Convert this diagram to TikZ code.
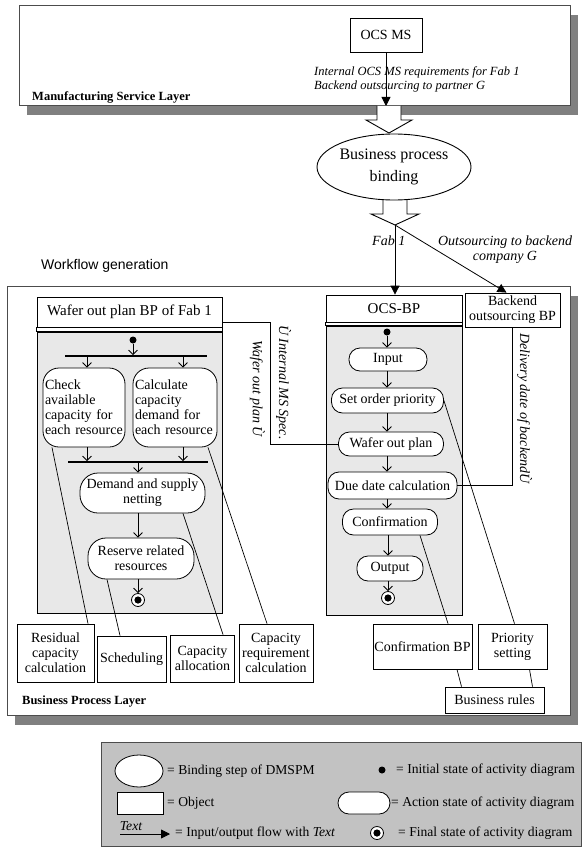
\documentclass[tikz,border=0pt]{standalone}
\usepackage{fontspec}
\setmainfont{Liberation Serif}
\newfontfamily\sansfam{Liberation Sans}
\usetikzlibrary{arrows.meta,shapes.geometric,calc}

\definecolor{shadowgray}{gray}{0.5}
\definecolor{panelgray}{gray}{0.91}
\definecolor{legendgray}{gray}{0.76}
\definecolor{framegray}{gray}{0.3}

\newcommand{\bodyfont}{\fontsize{14}{15}\selectfont}
\newcommand{\keyfont}{\fontsize{13.6}{15}\selectfont}

\tikzset{
  txt/.style={font=\bodyfont, inner sep=0pt},
  itxt/.style={font=\bodyfont\itshape, inner sep=0pt},
  ktxt/.style={font=\keyfont, inner sep=0pt},
  btxt/.style={font=\fontsize{12.5}{14}\selectfont\bfseries, inner sep=0pt},
  objbox/.style={draw, fill=white, line width=0.8pt, align=center, font=\bodyfont, inner sep=1pt},
  actbox/.style={draw, fill=white, line width=0.8pt, align=center, rounded corners=11pt, font=\bodyfont, inner sep=1pt},
  flow/.style={line width=0.8pt, -{Triangle[length=9pt,width=9pt]}},
  ctrl/.style={line width=0.8pt, -{Straight Barb[length=4.5pt,width=9pt]}},
  link/.style={line width=0.7pt},
  layer/.style={draw=framegray, line width=1.4pt, fill=white, inner sep=0pt},
  panel/.style={draw, fill=panelgray, line width=0.8pt, inner sep=0pt},
  startdot/.style={circle, fill=black, inner sep=0pt, minimum size=7pt},
  endring/.style={circle, draw, line width=0.8pt, fill=white, inner sep=0pt, minimum size=13pt},
  bar/.style={fill=black, inner sep=0pt, minimum height=1.4pt},
  blockarrow/.style={draw, fill=white, line width=0.9pt, line join=miter},
}

\begin{document}
\begin{tikzpicture}[x=1pt,y=-1pt]
\useasboundingbox (0,0) rectangle (582,848);

% ---------------- Manufacturing Service Layer ----------------
\fill[shadowgray] (27,15) rectangle (578,115);
\node[layer, minimum width=551pt, minimum height=100pt, anchor=north west] (mslayer) at (19,5) {};
\node[btxt, anchor=west] (mslabel) at (32,97) {Manufacturing Service Layer};
\node[objbox, minimum width=72pt, minimum height=34pt] (ocsms) at (386,35) {OCS MS};
\coordinate (msout) at (386,106);
\node[itxt, anchor=north west, align=left, font=\fontsize{12.5}{14}\selectfont\itshape] (msreq) at (314,66)
  {Internal OCS MS requirements for Fab 1\\Backend outsourcing to partner G};
\draw[flow] (ocsms) -- (msout);

% block arrow into the binding step
\draw[blockarrow] (377,106) -- (377,120) -- (366,120) -- (389,133) -- (412,120) -- (401,120) -- (401,106);
\coordinate (ba1tip) at (389,133);

% block arrow out of the binding step
\draw[blockarrow] (383,196) -- (383,214) -- (371,214) -- (395,225) -- (419,214) -- (407,214) -- (407,196);
\coordinate (ba2tip) at (395,225);

\node[draw, ellipse, fill=white, line width=0.9pt, minimum width=154pt, minimum height=66pt, inner sep=0pt,
      align=center, font=\fontsize{16}{22}\selectfont] (bind) at (394,167) {Business process\\binding};

% ---------------- Business Process Layer ----------------
\node[txt, anchor=west, font=\sansfam\fontsize{14}{15}\selectfont] (wfgen) at (41,266) {Workflow generation};
\fill[shadowgray] (15,296) rectangle (578,725);
\node[layer, minimum width=563pt, minimum height=429pt, anchor=north west] (bplayer) at (7,286) {};
\node[btxt, anchor=west] (bplabel) at (22,702) {Business Process Layer};

% Wafer out plan BP of Fab 1
\node[objbox, minimum width=185pt, minimum height=30pt, font=\fontsize{15}{16}\selectfont] (wtitle) at (129.5,312) {Wafer out plan BP of Fab 1};
\node[panel, minimum width=185pt, minimum height=281pt] (wbody) at (129.5,472.5) {};
\draw[line width=0.8pt, fill=white] (wtitle.south west) rectangle (wbody.north east);

\node[startdot] (wstart) at (133,340) {};
\node[bar, minimum width=142pt] (wfork) at (136,356) {};
\node[actbox, rounded corners=16pt, minimum height=79pt, text width=78pt, inner sep=2pt, align=left] (check) at (84,407.5)
  {Check\\available\\capacity for\\each resource};
\node[actbox, rounded corners=16pt, minimum height=79pt, text width=80pt, inner sep=2pt, align=left] (calc) at (175,407.5)
  {Calculate\\capacity\\demand for\\each resource};
\node[bar, minimum width=140pt] (wjoin) at (138,462) {};
\node[actbox, rounded corners=18pt, minimum width=125pt, minimum height=40pt] (demand) at (142.5,493) {Demand and supply\\netting};
\node[actbox, rounded corners=18pt, minimum width=106pt, minimum height=41pt] (reserve) at (141,558.5) {Reserve related\\resources};
\node[endring] (wend) at (138,600) {};
\fill (wend.center) circle (3.6pt);

\coordinate (ckx) at ([xshift=3pt]check.north);
\coordinate (clx) at ([xshift=8pt]calc.north);
\draw[ctrl] (wstart) -- (wstart |- wfork.north);
\draw[ctrl] (ckx |- wfork.south) -- (ckx);
\draw[ctrl] (clx |- wfork.south) -- (clx);
\draw[ctrl] (ckx |- check.south) -- (ckx |- wjoin.north);
\draw[ctrl] (clx |- calc.south) -- (clx |- wjoin.north);
\draw[ctrl] (wjoin.south) -- (wjoin.south |- demand.north);
\draw[ctrl] (wjoin.south |- demand.south) -- (wjoin.south |- reserve.north);
\draw[ctrl] (wend |- reserve.south) -- (wend.north);

% objects under the wafer out plan BP
\node[objbox, minimum width=77pt, minimum height=58pt] (residual) at (55.5,653) {Residual\\capacity\\calculation};
\node[objbox, minimum width=69pt, minimum height=46pt] (sched) at (131.5,659) {Scheduling};
\node[objbox, minimum width=64pt, minimum height=47pt] (alloc) at (202.5,658.5) {Capacity\\allocation};
\node[objbox, minimum width=74pt, minimum height=58pt] (req) at (276,653) {Capacity\\requirement\\calculation};

\draw[link] ([xshift=-32pt]check.south) -- ([xshift=32.5pt]residual.north);
\draw[link] ([xshift=33pt]calc.south) -- ([xshift=-9pt]req.north);
\draw[link] ([xshift=40.5pt]demand.south) -- ([xshift=20.5pt]alloc.north);
\draw[link] ([xshift=-34pt]reserve.south) -- ([xshift=-11.5pt]sched.north);

% OCS-BP
\node[objbox, minimum width=136pt, minimum height=27pt, font=\fontsize{15}{16}\selectfont] (ocstitle) at (394,308.5) {OCS-BP};
\node[panel, minimum width=136pt, minimum height=289pt] (ocsbody) at (394,470.5) {};
\draw[line width=0.8pt, fill=white] (ocstitle.south west) rectangle (ocsbody.north east);

\node[startdot] (ostart) at (387,332) {};
\node[actbox, minimum width=78pt, minimum height=23pt] (input) at (388,359.5) {Input};
\node[actbox, minimum width=112pt, minimum height=25pt] (setprio) at (387.5,400.5) {Set order priority};
\node[actbox, minimum width=105pt, minimum height=24pt] (wplan) at (391,444) {Wafer out plan};
\node[actbox, minimum width=129pt, minimum height=27pt] (duedate) at (392.5,485.5) {Due date calculation};
\node[actbox, minimum width=95pt, minimum height=26pt] (confirm) at (390,522) {Confirmation};
\node[actbox, minimum width=66pt, minimum height=25pt] (output) at (390,568.5) {Output};
\node[endring] (oend) at (388,598) {};
\fill (oend.center) circle (3.6pt);

\draw[ctrl] (ostart) -- (ostart |- input.north);
\draw[ctrl] (ostart |- input.south) -- (ostart |- setprio.north);
\draw[ctrl] (ostart |- setprio.south) -- (ostart |- wplan.north);
\draw[ctrl] (ostart |- wplan.south) -- (ostart |- duedate.north);
\draw[ctrl] (ostart |- duedate.south) -- (ostart |- confirm.north);
\draw[ctrl] (oend |- confirm.south) -- (oend |- output.north);
\draw[ctrl] (oend |- output.south) -- (oend.north);

\node[objbox, minimum width=95pt, minimum height=34pt] (backend) at (512.5,310) {Backend\\outsourcing BP};
\node[objbox, minimum width=99pt, minimum height=45pt] (confbp) at (422.5,646.5) {Confirmation BP};
\node[objbox, minimum width=69pt, minimum height=45pt] (priosetting) at (512.5,646.5) {Priority\\setting};
\node[objbox, minimum width=99pt, minimum height=26pt] (rules) at (494.5,700) {Business rules};

\draw[link] (setprio.east) -- ([xshift=2pt]priosetting.north);
\draw[link] ([xshift=30pt]confirm.south) -- ([xshift=25.5pt]confbp.north);
\draw[link] ([xshift=34.5pt]confbp.south) -- ([xshift=-33pt]rules.north);
\draw[link] ([xshift=17pt]priosetting.south) -- ([xshift=38pt]rules.north);

% flows out of the binding step
\draw[flow] (ba2tip) -- (ba2tip |- ocstitle.north);
\draw[flow] (ba2tip) -- ([xshift=-6pt]backend.north);
\node[itxt, anchor=west] (fablabel) at (372,241) {Fab 1};
\node[itxt, align=center] (outlabel) at (505,249.5) {Outsourcing to backend\\company G};

% internal flows between business processes
\coordinate (wbend) at (270,322);
\draw[link] ([yshift=-10pt]wtitle.east) -- (wbend) |- (wplan.west);
\node[itxt, rotate=-90, anchor=south west] (speclabel) at (276,325) {Ù Internal MS Spec.};
\node[itxt, rotate=-90, anchor=north east] (planlabel) at (265,437) {Wafer out plan Ù};

\draw[link] (backend.south) |- (duedate.east);
\node[itxt, rotate=-90, anchor=south west] (deliverylabel) at (517,333) {Delivery date of backendÙ};

% ---------------- Legend ----------------
\node[draw=black!70, fill=legendgray, line width=1pt, minimum width=480pt, minimum height=104pt, inner sep=0pt,
      anchor=north west] (legend) at (101,742) {};
\node[draw, ellipse, fill=white, line width=0.8pt, minimum width=48pt, minimum height=32pt, inner sep=0pt] (lgell) at (139,771) {};
\node[ktxt, anchor=west] (lgelltxt) at (167,771) {= Binding step of DMSPM};
\node[objbox, minimum width=46pt, minimum height=22pt] (lgobj) at (140,803) {};
\node[ktxt, anchor=west] (lgobjtxt) at (167,803) {= Object};
\node[ktxt, font=\keyfont\itshape] (lgtext) at (131,826) {Text};
\coordinate (lgfa) at (120,834);
\coordinate (lgfb) at (170,834);
\draw[flow] (lgfa) -- (lgfb);
\node[ktxt, anchor=west] (lgflowtxt) at (175,833) {= Input/output flow with \textit{Text}};
\node[startdot] (lgstart) at (382,770) {};
\node[ktxt, anchor=west] (lgstarttxt) at (396,770) {= Initial state of activity diagram};
\node[actbox, minimum width=52pt, minimum height=22pt] (lgact) at (364,803) {};
\node[ktxt, anchor=west] (lgacttxt) at (391,803) {= Action state of activity diagram};
\node[endring] (lgend) at (377,833) {};
\fill (lgend.center) circle (3.6pt);
\node[ktxt, anchor=west] (lgendtxt) at (398,833) {= Final state of activity diagram};

\end{tikzpicture}
\end{document}
